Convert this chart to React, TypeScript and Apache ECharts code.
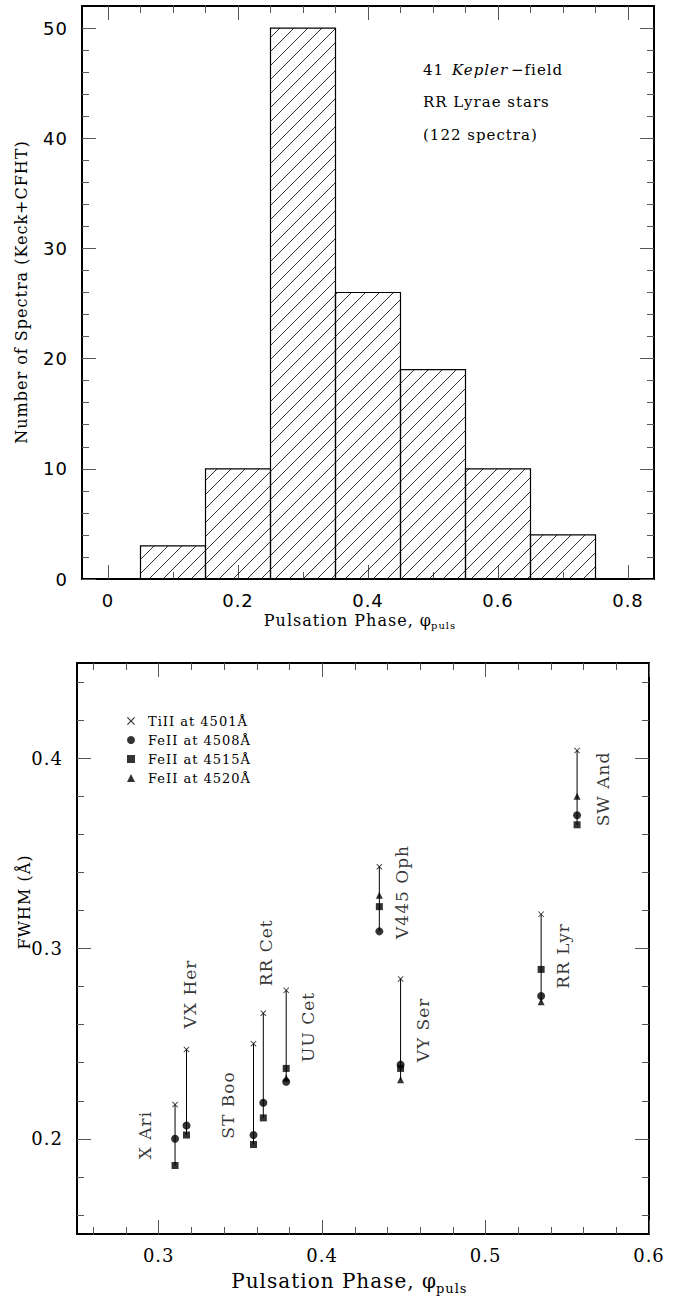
import React, { useEffect, useRef } from "react";
import * as echarts from "echarts";

// ---------- Top panel: histogram of pulsation phases ----------
const binStart = [0.05, 0.15, 0.25, 0.35, 0.45, 0.55, 0.65];
const binEnd = [0.15, 0.25, 0.35, 0.45, 0.55, 0.65, 0.75];
const counts = [3, 10, 50, 26, 19, 10, 4];

const histXMajor = [0, 0.2, 0.4, 0.6, 0.8];
const histXMinor = [0.05, 0.1, 0.15, 0.25, 0.3, 0.35, 0.45, 0.5, 0.55, 0.65, 0.7, 0.75];
const histYMajor = [0, 10, 20, 30, 40, 50];
const histYMinor = [2, 4, 6, 8, 12, 14, 16, 18, 22, 24, 26, 28, 32, 34, 36, 38, 42, 44, 46, 48];

// ---------- Bottom panel: FWHM vs phase ----------
const stars = ["X Ari", "VX Her", "ST Boo", "RR Cet", "UU Cet", "V445 Oph", "VY Ser", "RR Lyr", "SW And"];
const phases = [0.310, 0.317, 0.358, 0.364, 0.378, 0.435, 0.448, 0.534, 0.556];
const tiII4501 = [0.218, 0.247, 0.250, 0.266, 0.278, 0.343, 0.284, 0.318, 0.404];
const feII4508 = [0.200, 0.207, 0.202, 0.219, 0.230, 0.309, 0.239, 0.275, 0.370];
const feII4515 = [0.186, 0.202, 0.197, 0.211, 0.237, 0.322, 0.237, 0.289, 0.365];
const feII4520: (number | null)[] = [null, null, null, null, 0.232, 0.328, 0.231, 0.272, 0.380];
const labelPhase = [0.2916, 0.3192, 0.3424, 0.3657, 0.3914, 0.4489, 0.4618, 0.5474, 0.5719];
const labelFwhm = [0.202, 0.2761, 0.2178, 0.2977, 0.2588, 0.3297, 0.2572, 0.2961, 0.3838];
const lineNames = ["TiII at 4501Å", "FeII at 4508Å", "FeII at 4515Å", "FeII at 4520Å"];

const phXMajor = [0.3, 0.4, 0.5, 0.6];
const phXMinor = [0.26, 0.28, 0.32, 0.34, 0.36, 0.38, 0.42, 0.44, 0.46, 0.48, 0.52, 0.54, 0.56, 0.58];
const fwYMajor = [0.2, 0.3, 0.4];
const fwYMinor = [0.16, 0.18, 0.22, 0.24, 0.26, 0.28, 0.32, 0.34, 0.36, 0.38, 0.42, 0.44];

const SERIF = "DejaVu Serif";
const SANS = "DejaVu Sans";
const CROSS = "path://M0,1 L1,0 L5,4 L9,0 L10,1 L6,5 L10,9 L9,10 L5,6 L1,10 L0,9 L4,5 Z";

function axisSet(
  dim: "x" | "y",
  gridIndex: number,
  min: number,
  max: number,
  major: number[],
  minor: number[],
  labelStyle: any
) {
  const pos = dim === "x" ? ["bottom", "top"] : ["left", "right"];
  const base = { type: "value", gridIndex, min, max, splitLine: { show: false } };
  const tickStyle = { color: "#555", width: 1 };
  const lineStyle = { color: "#000", width: 2 };
  return [
    {
      ...base,
      position: pos[0],
      axisLine: { show: true, onZero: false, lineStyle },
      axisTick: { show: true, inside: true, length: 14, customValues: major, lineStyle: tickStyle },
      axisLabel: { show: true, customValues: major, color: "#000", ...labelStyle },
    },
    {
      ...base,
      position: pos[0],
      axisLine: { show: false, onZero: false },
      axisTick: { show: true, inside: true, length: 7, customValues: minor, lineStyle: tickStyle },
      axisLabel: { show: false },
    },
    {
      ...base,
      position: pos[1],
      axisLine: { show: true, onZero: false, lineStyle },
      axisTick: { show: true, inside: true, length: 14, customValues: major, lineStyle: tickStyle },
      axisLabel: { show: false },
    },
    {
      ...base,
      position: pos[1],
      axisLine: { show: false, onZero: false },
      axisTick: { show: true, inside: true, length: 7, customValues: minor, lineStyle: tickStyle },
      axisLabel: { show: false },
    },
  ];
}

function txt(text: string, x: number, y: number, size: number, extra: any = {}, rotation = 0) {
  return {
    type: "text",
    x,
    y,
    rotation,
    style: {
      text,
      fontFamily: SERIF,
      fontSize: size,
      fill: "#000",
      verticalAlign: "middle",
      ...extra,
    },
  };
}

export default function App() {
  const ref = useRef<HTMLDivElement>(null);

  useEffect(() => {
    if (!ref.current) return;
    const chart = echarts.init(ref.current, null, { renderer: "svg" });

    const histData = binStart.map((s, i) => [s, binEnd[i], counts[i]]);
    const rangeData = phases.map((p, i) => {
      const vals = [tiII4501[i], feII4508[i], feII4515[i], feII4520[i]].filter(
        (v) => v !== null
      ) as number[];
      return [p, Math.min(...vals), Math.max(...vals)];
    });
    const mk = (arr: (number | null)[]) =>
      phases.map((p, i) => [p, arr[i]]).filter((d) => d[1] !== null);

    const topLabel = { fontFamily: SANS, fontSize: 18, margin: 12 };
    const botLabel = { fontFamily: SERIF, fontSize: 18, margin: 12 };

    const xAxes = [
      ...axisSet("x", 0, -0.04, 0.84, histXMajor, histXMinor, topLabel),
      ...axisSet("x", 1, 0.25, 0.6, phXMajor, phXMinor, botLabel),
    ];
    const yAxes = [
      ...axisSet("y", 0, 0, 52, histYMajor, histYMinor, { ...topLabel, margin: 14 }),
      ...axisSet("y", 1, 0.15, 0.45, fwYMajor, fwYMinor, { ...botLabel, margin: 14 }),
    ];

    const scatterBase = {
      type: "scatter",
      xAxisIndex: 4,
      yAxisIndex: 4,
      z: 5,
      itemStyle: { color: "#000" },
    };

    const option: any = {
      animation: false,
      backgroundColor: "#fff",
      grid: [
        { left: 82, top: 6, width: 572, height: 573 },
        { left: 77, top: 663, width: 572, height: 571 },
      ],
      xAxis: xAxes,
      yAxis: yAxes,
      legend: {
        orient: "vertical",
        left: 122,
        top: 709,
        itemWidth: 8,
        itemHeight: 8,
        itemGap: 5,
        data: lineNames,
        textStyle: {
          fontFamily: SERIF,
          fontSize: 13,
          color: "#000",
          lineHeight: 14,
          padding: [0, 0, 0, 8],
        },
        selectedMode: false,
      },
      series: [
        {
          type: "custom",
          xAxisIndex: 0,
          yAxisIndex: 0,
          data: histData,
          encode: { x: [0, 1], y: 2 },
          renderItem: (params: any, api: any) => {
            const p0 = api.coord([api.value(0), 0]);
            const p1 = api.coord([api.value(1), api.value(2)]);
            const L = p0[0], R = p1[0], B = p0[1], T = p1[1];
            const sp = 14;
            const children: any[] = [];
            for (let c = Math.ceil((L + T) / sp) * sp; c <= R + B; c += sp) {
              const xs = Math.max(L, c - B);
              const xe = Math.min(R, c - T);
              if (xe > xs) {
                children.push({
                  type: "line",
                  shape: { x1: xs, y1: c - xs, x2: xe, y2: c - xe },
                  style: { stroke: "#000", lineWidth: 0.8 },
                });
              }
            }
            children.push({
              type: "rect",
              shape: { x: L, y: T, width: R - L, height: B - T },
              style: { fill: "none", stroke: "#000", lineWidth: 1.2 },
            });
            return { type: "group", children };
          },
        },
        {
          type: "custom",
          xAxisIndex: 4,
          yAxisIndex: 4,
          data: rangeData,
          encode: { x: 0, y: [1, 2] },
          z: 3,
          renderItem: (params: any, api: any) => {
            const a = api.coord([api.value(0), api.value(1)]);
            const b = api.coord([api.value(0), api.value(2)]);
            return {
              type: "line",
              shape: { x1: a[0], y1: a[1], x2: b[0], y2: b[1] },
              style: { stroke: "#000", lineWidth: 1 },
            };
          },
        },
        { ...scatterBase, name: lineNames[0], data: mk(tiII4501), symbol: CROSS, symbolSize: 6 },
        { ...scatterBase, name: lineNames[1], data: mk(feII4508), symbol: "circle", symbolSize: 8 },
        { ...scatterBase, name: lineNames[2], data: mk(feII4515), symbol: "rect", symbolSize: 7 },
        { ...scatterBase, name: lineNames[3], data: mk(feII4520), symbol: "triangle", symbolSize: 7 },
        {
          type: "scatter",
          xAxisIndex: 4,
          yAxisIndex: 4,
          symbolSize: 0,
          silent: true,
          data: stars.map((s, i) => ({ name: s, value: [labelPhase[i], labelFwhm[i]] })),
          label: {
            show: true,
            position: "inside",
            rotate: 90,
            formatter: (p: any) => p.name,
            fontFamily: SERIF,
            fontSize: 17,
            color: "#000",
          },
        },
      ],
      graphic: [
        // annotation in top panel
        txt("41", 423, 70, 15),
        txt("Kepler", 452, 70, 15, { fontStyle: "italic" }),
        txt("\u2212field", 511, 70, 15),
        txt("RR Lyrae stars", 423, 102, 15),
        txt("(122 spectra)", 423, 135, 15),
        // top panel axis titles
        txt("Number of Spectra (Keck+CFHT)", 21, 292, 16, { align: "center" }, Math.PI / 2),
        txt("Pulsation Phase, \u03c6", 432, 620, 16, { align: "right" }),
        txt("puls", 431, 625, 10, { align: "left" }),
        // bottom panel axis titles
        txt("FWHM (Å)", 24, 902, 16, { align: "center" }, Math.PI / 2),
        txt("Pulsation Phase, \u03c6", 437, 1281, 20, { align: "right" }),
        txt("puls", 436, 1288, 13, { align: "left" }),
      ],
    };

    chart.setOption(option);
    return () => chart.dispose();
  }, []);

  return (
    <>
      <style>{".fig-chart svg text { letter-spacing: 1px; }"}</style>
      <div
        ref={ref}
        className="fig-chart"
        style={{ position: "fixed", left: 0, top: 0, width: 675, height: 1299, background: "#fff" }}
      />
    </>
  );
}
